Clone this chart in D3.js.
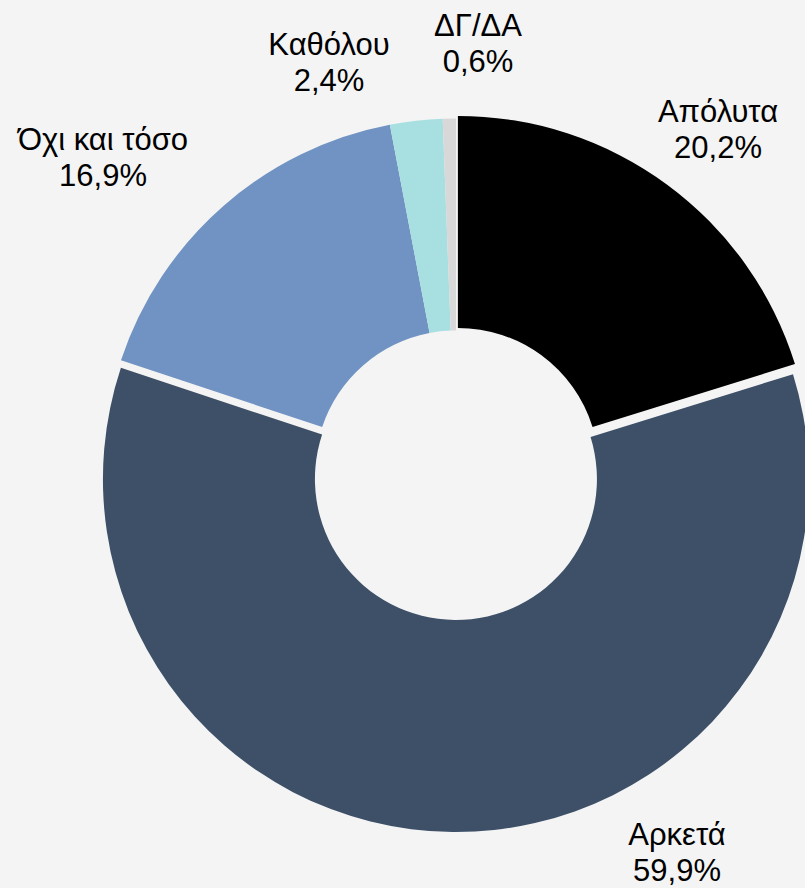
<!DOCTYPE html>
<html>
<head>
<meta charset="utf-8">
<script src="https://cdn.jsdelivr.net/npm/d3@7"></script>
<style>
    html, body { margin: 0; padding: 0; background: #f4f4f4; }
    svg { display: block; }
    text { font-family: "Liberation Sans", Arial, sans-serif; fill: #000; }
</style>
</head>
<body>
<div id="chart"></div>
<script>
// data
var categories = ["Απόλυτα", "Αρκετά", "Όχι και τόσο", "Καθόλου", "ΔΓ/ΔΑ"];
var values = [20.2, 59.9, 16.9, 2.4, 0.6];
var valueLabels = ["20,2%", "59,9%", "16,9%", "2,4%", "0,6%"];

// styles
var colors = ["#000000", "#3d5068", "#7093c3", "#a8e0e1", "#d8d8d8"];
var explode = [3.2, 7.5, 0, 0, 0];
// label centres (first-line baseline) as placed in the original
var labelPos = [[718, 122], [677, 845], [103, 150], [329, 55], [478, 36]];

var svgWidth = 805, svgHeight = 888;
var cx = 456, cy = 471.5;
var outerR = 353, innerR = 141;

var svg = d3.select("#chart").append("svg")
    .attr("width", svgWidth)
    .attr("height", svgHeight);

svg.append("rect")
    .attr("width", svgWidth)
    .attr("height", svgHeight)
    .style("fill", "#f4f4f4");

var g = svg.append("g")
    .attr("transform", "translate(" + cx + "," + cy + ")");

var pie = d3.pie().sort(null).value(function(d) { return d; });
var arc = d3.arc().innerRadius(innerR).outerRadius(outerR);

var slices = pie(values);

g.selectAll("path.slice")
    .data(slices)
    .enter().append("path")
    .attr("class", "slice")
    .attr("d", arc)
    .attr("transform", function(d, i) {
        var a = (d.startAngle + d.endAngle) / 2;
        var dx = Math.sin(a) * explode[i];
        var dy = -Math.cos(a) * explode[i];
        return "translate(" + dx + "," + dy + ")";
    })
    .style("fill", function(d, i) { return colors[i]; });

var labels = svg.selectAll("text.lbl")
    .data(categories)
    .enter().append("text")
    .attr("class", "lbl")
    .attr("text-anchor", "middle")
    .style("font-size", "31px");

labels.append("tspan")
    .attr("x", function(d, i) { return labelPos[i][0]; })
    .attr("y", function(d, i) { return labelPos[i][1]; })
    .text(function(d) { return d; });

labels.append("tspan")
    .attr("x", function(d, i) { return labelPos[i][0]; })
    .attr("y", function(d, i) { return labelPos[i][1] + 35.5; })
    .text(function(d, i) { return valueLabels[i]; });
</script>
</body>
</html>
